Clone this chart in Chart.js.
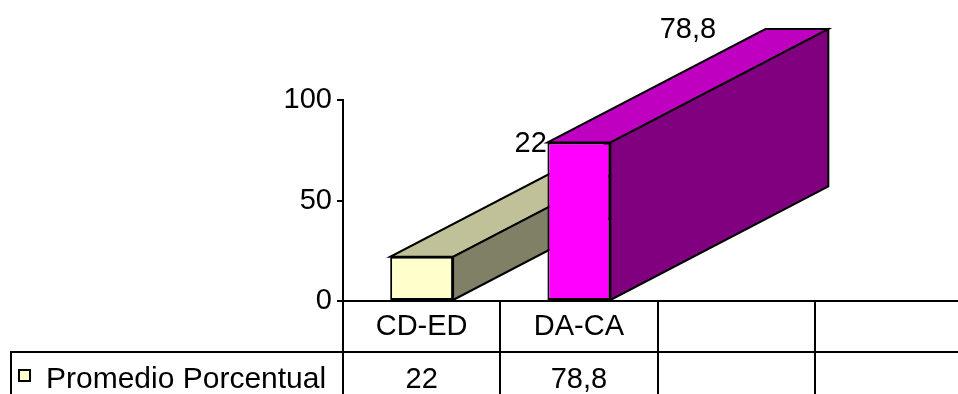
<!DOCTYPE html>
<html>
<head>
<meta charset="utf-8">
<script src="https://cdn.jsdelivr.net/npm/chart.js@4/dist/chart.umd.min.js"></script>
<style>
  html, body { margin: 0; padding: 0; overflow: hidden; background: #fff; }
  #wrap { width: 972px; height: 394px; }
</style>
</head>
<body>
<div id="wrap"><canvas id="c" width="972" height="394"></canvas></div>
<script>
// Data
const categories = ['CD-ED', 'DA-CA', '', ''];
const seriesName = 'Promedio Porcentual';
const values = [22, 78.8, null, null];
const yTicks = [0, 50, 100];

// Styles
const frontColors = ['#FFFFCC', '#FF00FF'];
const topColors = ['#C0C099', '#C000C0'];
const sideColors = ['#808066', '#800080'];
const FONT = '"Liberation Sans", Arial, sans-serif';
const FONT_SIZE = 29;
const DEPTH_X = 218;      // receding offset of the 3-D boxes
const DEPTH_Y = -113.5;
const ROW1_H = 51;        // category row of the data table
const TABLE_LEFT = 11;

const fmt = v => (v == null ? '' : String(v).replace('.', ','));

function poly(ctx, pts, fill) {
  ctx.beginPath();
  ctx.moveTo(pts[0][0], pts[0][1]);
  for (let k = 1; k < pts.length; k++) ctx.lineTo(pts[k][0], pts[k][1]);
  ctx.closePath();
  ctx.fillStyle = fill;
  ctx.fill();
  ctx.stroke();
}

// Top and side faces of each bar, drawn behind the front faces
const box3d = {
  id: 'box3d',
  beforeDatasetsDraw(chart) {
    const ctx = chart.ctx;
    const meta = chart.getDatasetMeta(0);
    ctx.save();
    ctx.lineWidth = 2;
    ctx.strokeStyle = '#000';
    ctx.lineJoin = 'miter';
    meta.data.forEach((bar, i) => {
      if (values[i] == null) return;
      const p = bar.getProps(['x', 'y', 'base', 'width'], true);
      const l = p.x - p.width / 2, r = p.x + p.width / 2;
      poly(ctx, [[l, p.y], [r, p.y], [r + DEPTH_X, p.y + DEPTH_Y], [l + DEPTH_X, p.y + DEPTH_Y]], topColors[i]);
      poly(ctx, [[r, p.y], [r + DEPTH_X, p.y + DEPTH_Y], [r + DEPTH_X, p.base + DEPTH_Y], [r, p.base]], sideColors[i]);
    });
    ctx.restore();
  },
  afterDatasetsDraw(chart) {
    const ctx = chart.ctx;
    const meta = chart.getDatasetMeta(0);
    ctx.save();
    ctx.fillStyle = '#000';
    ctx.font = FONT_SIZE + 'px ' + FONT;
    ctx.textAlign = 'center';
    ctx.textBaseline = 'middle';
    meta.data.forEach((bar, i) => {
      if (values[i] == null) return;
      const p = bar.getProps(['x', 'y'], true);
      ctx.fillText(fmt(values[i]), p.x + DEPTH_X / 2, p.y + DEPTH_Y + 1);
    });
    ctx.restore();
  }
};

// Data table under the category axis
const dataTable = {
  id: 'dataTable',
  afterDraw(chart) {
    const ctx = chart.ctx;
    const xs = chart.scales.x;
    const top = Math.round(chart.chartArea.bottom);
    const bottom = chart.height;
    const rowY = top + ROW1_H;
    const step = xs.getPixelForValue(1) - xs.getPixelForValue(0);
    const first = xs.getPixelForValue(0) - step / 2;

    ctx.save();
    ctx.strokeStyle = '#000';
    ctx.lineWidth = 2;
    ctx.beginPath();
    for (let i = 0; i <= categories.length; i++) {
      const x = Math.round(first + i * step);
      ctx.moveTo(x, top);
      ctx.lineTo(x, bottom);
    }
    ctx.moveTo(TABLE_LEFT, rowY);
    ctx.lineTo(chart.width, rowY);
    ctx.moveTo(TABLE_LEFT, rowY - 1);
    ctx.lineTo(TABLE_LEFT, bottom);
    ctx.stroke();

    ctx.fillStyle = '#000';
    ctx.font = FONT_SIZE + 'px ' + FONT;
    ctx.textAlign = 'center';
    ctx.textBaseline = 'middle';
    categories.forEach((c, i) => {
      const cx = xs.getPixelForValue(i);
      ctx.fillText(c, cx, top + 26);
      ctx.fillText(fmt(values[i]), cx, rowY + 28);
    });

    // legend key and series name
    ctx.fillStyle = frontColors[0];
    ctx.lineWidth = 2;
    ctx.fillRect(19, rowY + 18, 11, 11);
    ctx.strokeRect(19, rowY + 18, 11, 11);
    ctx.fillStyle = '#000';
    ctx.textAlign = 'left';
    ctx.font = '30px ' + FONT;
    ctx.fillText(seriesName, 46, rowY + 28);
    ctx.restore();
  }
};

Chart.defaults.font.family = FONT;

new Chart(document.getElementById('c'), {
  type: 'bar',
  data: {
    labels: categories,
    datasets: [{
      label: seriesName,
      data: values,
      backgroundColor: frontColors,
      borderColor: '#000',
      borderWidth: 2,
      borderSkipped: false,
      barPercentage: 0.8,
      categoryPercentage: 0.5
    }]
  },
  options: {
    responsive: false,
    animation: false,
    layout: { padding: { top: 100, left: 0, right: 0, bottom: 0 } },
    plugins: { legend: { display: false }, tooltip: { enabled: false } },
    scales: {
      x: {
        ticks: { display: false },
        grid: { display: false },
        border: { display: true, color: '#000', width: 2 },
        afterFit: s => { s.height = 93; }
      },
      y: {
        min: 0,
        max: 100,
        afterBuildTicks: s => { s.ticks = yTicks.map(v => ({ value: v })); },
        ticks: { color: '#000', font: { size: FONT_SIZE }, padding: 5 },
        grid: { drawOnChartArea: false, drawTicks: true, tickLength: 6, tickColor: '#000', tickWidth: 2, color: '#000', lineWidth: 2 },
        border: { display: true, color: '#000', width: 2 },
        afterFit: s => { s.width = 343; }
      }
    }
  },
  plugins: [box3d, dataTable]
});
</script>
</body>
</html>
